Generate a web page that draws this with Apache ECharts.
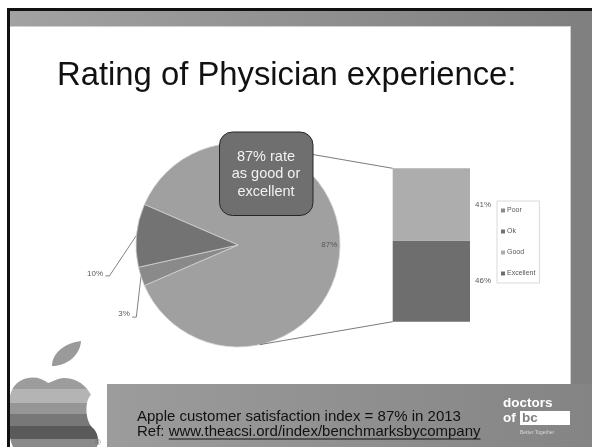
<!DOCTYPE html>
<html><head><meta charset="utf-8">
<script src="https://cdn.jsdelivr.net/npm/echarts@6/dist/echarts.min.js"></script>
<style>html,body{margin:0;padding:0;background:#fff}#c{width:592px;height:447px}</style>
</head><body><div id="c"></div>
<script>
// ---------- data ----------
const titleText = 'Rating of Physician experience:';
const categories = ['Poor', 'Ok', 'Good', 'Excellent'];
const ratingValues = [3, 10, 41, 46];
const otherName = 'Other';
const pieCategories = ['Poor', 'Ok'];          // shown as own slices in the main pie
const barCategories = ['Good', 'Excellent'];  // broken out into the stacked bar
const calloutText = ['87% rate', 'as good or', 'excellent'];
const footerLine1 = 'Apple customer satisfaction index = 87% in 2013';
const footerRef = 'Ref: ';
const footerUrl = 'www.theacsi.ord/index/benchmarksbycompany';

// ---------- styles / layout ----------
const FONT = '"Liberation Sans", Arial, sans-serif';
const colors = {Other: '#a0a0a0', Poor: '#8a8a8a', Ok: '#737373', Good: '#adadad', Excellent: '#6e6e6e'};
const PIE = {cx: 238, cy: 245, r: 102};
const leaderOffsets = {Poor: {elbow: [-4.7, 40.6], tail: -4, text: [-2.4, -3]}, Ok: {elbow: [-27, 40.5], tail: -4, text: [-2.4, -2]}};
const connectorAngle = 77.6;

const val = n => ratingValues[categories.indexOf(n)];
const otherValue = barCategories.reduce((s, n) => s + val(n), 0);
const pieData = [{name: otherName, value: otherValue}].concat(pieCategories.map(n => ({name: n, value: val(n)})));
const pieTotal = pieData.reduce((s, d) => s + d.value, 0);
const startAngle = otherValue / pieTotal * 180;

function midAngle(idx) {
  let cum = 0;
  for (let i = 0; i < idx; i++) cum += pieData[i].value;
  const a0 = startAngle - 360 * cum / pieTotal;
  const a1 = a0 - 360 * pieData[idx].value / pieTotal;
  return (a0 + a1) / 2 * Math.PI / 180;
}

// decorative logo shapes
echarts.graphic.registerShape('appleBody', echarts.graphic.extendPath('M48 383 C38 374 20 376 13 388 C6 400 6 430 13 447 L97 447 C99 440 98 434 94 429 C85 423 84 401 91 395 C87 386 76 377 63 378 C56 379 52 382 48 383 Z'));
echarts.graphic.registerShape('appleLeaf', echarts.graphic.extendPath('M52 366 C52 352 66 343 81 341 C80 356 66 366 52 366 Z'));

const chart = echarts.init(document.getElementById('c'), null, {renderer: 'canvas'});

const appleGrad = {
  type: 'linear', x: 0, y: 378, x2: 0, y2: 447, global: true,
  colorStops: [
    {offset: 0, color: '#9c9c9c'}, {offset: 0.159, color: '#9c9c9c'},
    {offset: 0.159, color: '#b4b4b4'}, {offset: 0.362, color: '#b4b4b4'},
    {offset: 0.362, color: '#969696'}, {offset: 0.522, color: '#969696'},
    {offset: 0.522, color: '#787878'}, {offset: 0.696, color: '#787878'},
    {offset: 0.696, color: '#5a5a5a'}, {offset: 0.884, color: '#5a5a5a'},
    {offset: 0.884, color: '#8a8a8a'}, {offset: 1, color: '#8a8a8a'}
  ]
};

// measure for underline
const mctx = document.createElement('canvas').getContext('2d');
mctx.font = '15px ' + FONT;
const refW = mctx.measureText(footerRef).width;
const urlW = mctx.measureText(footerUrl).width;
const footX = 137;

const graphics = [
  {type: 'rect', id: 'topBand', z: 0, shape: {x: 10, y: 11, width: 582, height: 15},
    style: {fill: {type: 'linear', x: 0, y: 0, x2: 1, y2: 0, colorStops: [{offset: 0, color: '#a2a2a2'}, {offset: 1, color: '#7f7f7f'}]}}},
  {type: 'rect', id: 'topEdge', z: 0, shape: {x: 10, y: 26, width: 561, height: 1}, style: {fill: '#cfcfcf'}},
  {type: 'rect', id: 'rightBand', z: 0, shape: {x: 571, y: 11, width: 21, height: 436}, style: {fill: '#808080'}},
  {type: 'rect', id: 'rightEdge', z: 0, shape: {x: 570, y: 27, width: 1, height: 357}, style: {fill: '#cfcfcf'}},
  {type: 'rect', id: 'botBand', z: 0, shape: {x: 107, y: 384, width: 485, height: 63},
    style: {fill: {type: 'linear', x: 0, y: 0, x2: 1, y2: 0, colorStops: [{offset: 0, color: '#9c9c9c'}, {offset: 1, color: '#848484'}]}}},
  {type: 'appleBody', id: 'apple', z: 1, shape: {}, style: {fill: appleGrad}},
  {type: 'appleLeaf', id: 'leaf', z: 1, shape: {}, style: {fill: '#9a9a9a'}},
  {type: 'text', id: 'reg', z: 1, style: {text: '®', x: 98, y: 443, font: '7px ' + FONT, fill: '#555', align: 'center', verticalAlign: 'middle'}},
  {type: 'rect', id: 'topBlack', z: 5, shape: {x: 7, y: 8, width: 585, height: 3}, style: {fill: '#111'}},
  {type: 'rect', id: 'leftBlack', z: 5, shape: {x: 7, y: 8, width: 3, height: 439}, style: {fill: '#111'}},
  {type: 'text', id: 'title', z: 5, style: {text: titleText, x: 57, y: 76, font: '32.8px ' + FONT, fill: '#111', align: 'left', verticalAlign: 'middle'}},
  {type: 'rect', id: 'callout', z: 50, shape: {x: 219.5, y: 132, width: 93.5, height: 83.5, r: 13},
    style: {fill: '#6f6f6f', stroke: '#262626', lineWidth: 1}},
  {type: 'text', id: 'calloutText', z: 51, style: {text: calloutText.join('\n'), x: 266, y: 174, font: '14.5px ' + FONT, lineHeight: 17.5, fill: '#f2f2f2', align: 'center', verticalAlign: 'middle'}},
  {type: 'text', id: 'foot1', z: 5, style: {text: footerLine1, x: footX, y: 416.5, font: '15px ' + FONT, fill: '#111', align: 'left', verticalAlign: 'middle'}},
  {type: 'text', id: 'foot2', z: 5, style: {text: footerRef + footerUrl, x: footX, y: 431.5, font: '15px ' + FONT, fill: '#111', align: 'left', verticalAlign: 'middle'}},
  {type: 'rect', id: 'underline', z: 5, shape: {x: footX + refW, y: 438.5, width: urlW, height: 1}, style: {fill: '#111'}},
  {type: 'text', id: 'doctors', z: 5, style: {text: 'doctors', x: 503, y: 403, font: 'bold 13.5px ' + FONT, fill: '#fff', align: 'left', verticalAlign: 'middle'}},
  {type: 'text', id: 'of', z: 5, style: {text: 'of', x: 503, y: 418, font: 'bold 13.5px ' + FONT, fill: '#fff', align: 'left', verticalAlign: 'middle'}},
  {type: 'rect', id: 'bcBox', z: 5, shape: {x: 520, y: 411, width: 50, height: 14}, style: {fill: '#fff'}},
  {type: 'text', id: 'bc', z: 6, style: {text: 'bc', x: 522, y: 418, font: 'bold 13.5px ' + FONT, fill: '#808080', align: 'left', verticalAlign: 'middle'}},
  {type: 'text', id: 'better', z: 5, style: {text: 'Better Together', x: 520, y: 433, font: '5px ' + FONT, fill: '#d8d8d8', align: 'left', verticalAlign: 'middle'}}
];

const labelStyle = {fontSize: 8, color: '#595959', fontFamily: FONT};

const option = {
  animation: false,
  backgroundColor: '#fff',
  graphic: {elements: graphics},
  legend: {
    orient: 'vertical', left: 497, top: 201, data: categories, icon: 'rect',
    itemWidth: 4, itemHeight: 4, itemGap: 12, padding: [5, 4, 5, 4],
    borderColor: '#d9d9d9', borderWidth: 1, selectedMode: false,
    itemStyle: {borderWidth: 0},
    textStyle: {fontSize: 7, color: '#595959', lineHeight: 9, fontFamily: FONT, padding: [0, 0, 0, -3]}
  },
  grid: {left: 392.7, top: 168.3, width: 77.3, height: 153.4},
  xAxis: {type: 'category', data: [''], show: false},
  yAxis: {type: 'value', min: 0, max: otherValue, show: false},
  series: [
    {
      type: 'pie', center: [PIE.cx, PIE.cy], radius: PIE.r, startAngle: startAngle, clockwise: true,
      avoidLabelOverlap: false, silent: true, z: 2,
      itemStyle: {borderColor: '#d4d4d4', borderWidth: 0.75},
      label: Object.assign({show: true, position: 'outside', formatter: '{c}%'}, labelStyle),
      labelLine: {show: true, length: 10, length2: 4, lineStyle: {color: '#595959', width: 0.75}},
      data: pieData.map(d => {
        const o = {name: d.name, value: d.value, itemStyle: {color: colors[d.name]}};
        if (d.name === otherName) { o.label = {position: 'inside'}; o.labelLine = {show: false}; }
        return o;
      }),
      labelLayout: function (p) {
        const name = pieData[p.dataIndex].name;
        const a = midAngle(p.dataIndex);
        if (name === otherName) {
          return {x: PIE.cx + PIE.r * 0.895 * Math.cos(a), y: PIE.cy - PIE.r * 0.895 * Math.sin(a), align: 'center', verticalAlign: 'middle'};
        }
        const off = leaderOffsets[name];
        const ax = PIE.cx + PIE.r * Math.cos(a), ay = PIE.cy - PIE.r * Math.sin(a);
        const ex = ax + off.elbow[0], ey = ay + off.elbow[1];
        const tx = ex + off.tail;
        return {
          x: tx + off.text[0], y: ey + off.text[1], align: 'right', verticalAlign: 'middle',
          labelLinePoints: [[ax, ay], [ex, ey], [tx, ey]]
        };
      }
    }
  ].concat(barCategories.slice().reverse().map(n => ({
    name: n, type: 'bar', stack: 'other', barWidth: '100%', silent: true,
    data: [val(n)], itemStyle: {color: colors[n]},
    label: Object.assign({show: true, position: 'right', distance: 5, formatter: '{c}%'}, labelStyle)
  })))
};
chart.setOption(option);

// connector lines from pie perimeter to stacked-bar corners
const gridRect = chart.getModel().getComponent('grid', 0).coordinateSystem.getRect();
const yTop = chart.convertToPixel({yAxisIndex: 0}, otherValue);
const yBot = chart.convertToPixel({yAxisIndex: 0}, 0);
const ca = connectorAngle * Math.PI / 180;
const px = PIE.cx + PIE.r * Math.cos(ca);
chart.setOption({graphic: {elements: [
  {type: 'line', id: 'connTop', z: 10, shape: {x1: px, y1: PIE.cy - PIE.r * Math.sin(ca), x2: gridRect.x, y2: yTop}, style: {stroke: '#595959', lineWidth: 0.8}},
  {type: 'line', id: 'connBot', z: 10, shape: {x1: px, y1: PIE.cy + PIE.r * Math.sin(ca), x2: gridRect.x, y2: yBot}, style: {stroke: '#595959', lineWidth: 0.8}}
]}});
</script></body></html>
